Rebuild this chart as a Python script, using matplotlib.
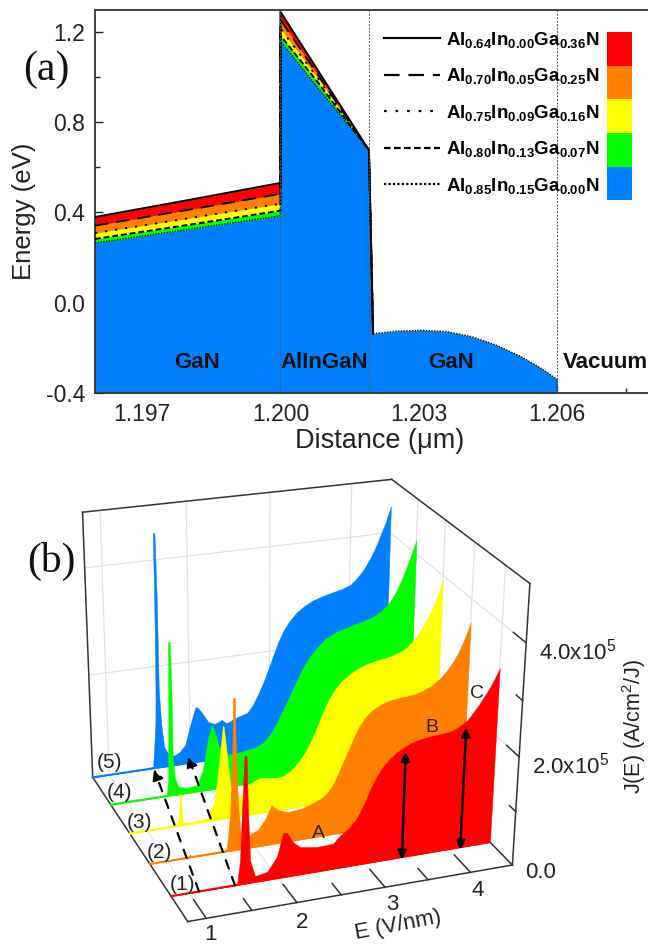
import numpy as np
import matplotlib
matplotlib.use('Agg')
import matplotlib.pyplot as plt
from matplotlib.lines import Line2D
from matplotlib.patches import FancyArrowPatch, Rectangle
from mpl_toolkits.mplot3d import proj3d

plt.rcParams['font.family'] = ['Liberation Sans', 'DejaVu Sans']
plt.rcParams['mathtext.fontset'] = 'custom'
plt.rcParams['mathtext.rm'] = 'Liberation Sans'
plt.rcParams['mathtext.bf'] = 'Liberation Sans:bold'
plt.rcParams['mathtext.default'] = 'regular'

W, H = 648, 944
RED, ORANGE, YELLOW, GREEN, BLUE = '#ff0000', '#ff8000', '#ffff00', '#00ff00', '#0080ff'
TXT = '#222222'

# panel (a): band edges
x_band = [1.19598, 1.198, 1.2, 1.2, 1.2008, 1.20192, 1.20192, 1.20201, 1.20252, 1.20306, 1.2036,
          1.20414, 1.20467, 1.20521, 1.20566, 1.206, 1.206]
dome = [-0.137, -0.126, -0.122, -0.128, -0.150, -0.187, -0.238, -0.292, -0.34, -0.40]
e_064 = [0.380, 0.455, 0.531, 1.290, 1.034, 0.676, 0.676] + dome
e_070 = [0.342, 0.412, 0.483, 1.255, 1.014, 0.676, 0.676] + dome
e_075 = [0.309, 0.374, 0.439, 1.215, 0.999, 0.676, 0.676] + dome
e_080 = [0.283, 0.345, 0.408, 1.185, 0.980, 0.676, 0.676] + dome
e_085 = [0.265, 0.325, 0.386, 1.160, 0.955, 0.676, 0.676] + dome

names = [r'$\mathbf{Al_{0.64}In_{0.00}Ga_{0.36}N}$', r'$\mathbf{Al_{0.70}In_{0.05}Ga_{0.25}N}$',
         r'$\mathbf{Al_{0.75}In_{0.09}Ga_{0.16}N}$', r'$\mathbf{Al_{0.80}In_{0.13}Ga_{0.07}N}$',
         r'$\mathbf{Al_{0.85}In_{0.15}Ga_{0.00}N}$']
colors = [RED, ORANGE, YELLOW, GREEN, BLUE]
styles = ['-', (0, (7, 4)), (0, (1.2, 4)), (0, (3, 1.5)), (0, (1, 1))]

# panel (b): J(E) curves, J in 1e5 A/cm2/J
E_1 = [0.80,1.489,1.534,1.569,1.593,1.622,1.644,1.659,1.681,1.737,1.873,1.985,2.052,2.097,2.166,2.246,2.441,2.625,
       2.69,2.76,2.82,2.88,2.93,2.99,3.04,3.11,3.18,3.26,3.34,3.43,3.52,3.64,3.75,3.85,3.95,4.05,4.15,4.22,4.29,4.35,4.40,4.45,4.50]
J_1 = [0.00,0.00,0.00,0.45,1.36,2.31,2.31,1.34,0.42,0.11,0.15,0.40,0.82,0.81,0.62,0.51,0.46,0.47,
       0.58,0.66,0.74,0.84,0.97,1.17,1.36,1.57,1.74,1.87,1.97,2.05,2.11,2.15,2.17,2.18,2.20,2.26,2.36,2.49,2.64,2.78,2.90,3.05,3.21]
E_2 = [0.80,1.22,1.26,1.29,1.64,1.68,1.72,1.75,1.76,1.78,1.79,1.81,1.84,1.89,1.97,2.04,2.12,2.20,2.27,2.39,2.57,
       2.69,2.78,2.85,2.91,2.96,3.02,3.08,3.15,3.22,3.29,3.37,3.47,3.57,3.67,3.77,3.87,3.96,4.06,4.16,4.24,4.31,4.37,4.42,4.46,4.50]
J_2 = [0.00,0.00,0.05,0.00,0.00,0.06,0.68,1.87,2.80,2.80,1.86,0.93,0.27,0.14,0.27,0.31,0.48,0.74,0.63,0.56,0.59,
       0.66,0.72,0.80,0.92,1.08,1.29,1.50,1.76,1.97,2.12,2.23,2.31,2.36,2.38,2.39,2.41,2.45,2.52,2.63,2.76,2.91,3.07,3.24,3.40,3.58]
E_3 = [0.80,1.12,1.36,1.38,1.39,1.40,1.41,1.42,1.54,1.72,1.80,1.86,1.90,1.91,1.95,1.99,2.05,2.11,2.19,2.34,
       2.54,2.62,2.70,2.76,2.82,2.88,2.94,3.00,3.05,3.11,3.17,3.24,3.32,3.42,3.52,3.64,3.76,3.89,4.01,4.09,4.16,4.23,4.30,4.36,4.41,4.46,4.50]
J_3 = [0.00,0.00,0.04,0.30,0.61,0.60,0.29,0.04,0.03,0.06,0.39,1.19,1.77,1.76,1.17,0.53,0.36,0.41,0.58,0.68,
       0.63,0.65,0.72,0.81,0.92,1.05,1.22,1.42,1.62,1.84,2.02,2.18,2.31,2.42,2.50,2.56,2.60,2.63,2.69,2.76,2.86,3.00,3.17,3.34,3.52,3.72,3.92]
E_4 = [0.80,1.15,1.39,1.47,1.49,1.51,1.52,1.54,1.55,1.55,1.57,1.61,1.71,1.84,1.91,1.98,2.03,2.06,2.10,2.18,2.33,
       2.52,2.59,2.65,2.71,2.77,2.83,2.89,2.95,3.01,3.07,3.13,3.21,3.30,3.40,3.50,3.62,3.74,3.87,3.99,4.08,4.16,4.22,4.28,4.34,4.39,4.45,4.50]
J_4 = [0.00,0.00,0.00,0.02,0.31,1.85,2.93,2.93,2.03,0.75,0.33,0.15,0.10,0.13,0.41,1.04,1.26,1.11,0.85,0.64,0.64,
       0.69,0.72,0.77,0.87,0.99,1.16,1.35,1.53,1.73,1.93,2.11,2.30,2.46,2.60,2.69,2.75,2.80,2.85,2.91,2.99,3.09,3.21,3.37,3.57,3.77,4.02,4.25]
E_5 = [0.80,1.38,1.54,1.55,1.58,1.59,1.60,1.60,1.62,1.63,1.63,1.65,1.68,1.75,1.81,1.87,1.94,2.00,2.07,2.09,2.15,2.23,2.31,2.40,2.46,2.57,
       2.72,2.79,2.85,2.92,2.98,3.04,3.10,3.17,3.25,3.34,3.44,3.54,3.66,3.79,3.90,4.01,4.07,4.13,4.19,4.25,4.31,4.37,4.44,4.50]
J_5 = [0.00,0.00,0.03,0.23,0.90,1.54,3.26,4.49,4.49,3.25,1.53,0.88,0.40,0.18,0.20,0.25,0.37,0.72,1.08,1.10,0.98,0.77,0.71,0.77,0.69,0.77,
       0.84,0.98,1.16,1.39,1.63,1.88,2.13,2.36,2.54,2.69,2.80,2.88,2.94,2.99,3.03,3.09,3.17,3.27,3.39,3.54,3.72,3.94,4.21,4.50]
curves = [(5, E_5, J_5, BLUE), (4, E_4, J_4, GREEN), (3, E_3, J_3, YELLOW), (2, E_2, J_2, ORANGE), (1, E_1, J_1, RED)]

fig = plt.figure(figsize=(W / 100, H / 100), dpi=100)
ax = fig.add_axes([95 / W, 1 - 393 / H, (W - 95) / W, 383 / H])
ax.set_xlim(1.19598, 1.20797)
ax.set_ylim(-0.4, 1.2975)

for e, c in zip([e_064, e_070, e_075, e_080, e_085], colors):
    ax.fill_between(x_band, -0.4, e, color=c, lw=0, zorder=2)
for e, s in zip([e_064, e_070, e_075, e_080], styles):
    ax.plot(x_band[:8], e[:8], color='black', ls=s, lw=1.4, zorder=3)
ax.plot(x_band, e_085, color='#111111', ls=styles[4], lw=1.0, zorder=3)
for x in [1.2, 1.20192, 1.206]:
    ax.axvline(x, color='#555555', ls=(0, (2, 1.5)), lw=0.7, zorder=4)

ax.set_xticks([1.197, 1.2, 1.203, 1.206])
ax.set_xticklabels(['1.197', '1.200', '1.203', '1.206'])
ax.set_xticks([1.1985, 1.2015, 1.2045, 1.2075], minor=True)
ax.set_yticks([-0.4, 0.0, 0.4, 0.8, 1.2])
ax.set_yticklabels(['-0.4', '0.0', '0.4', '0.8', '1.2'])
ax.set_yticks([-0.2, 0.2, 0.6, 1.0], minor=True)
ax.tick_params(which='major', direction='in', length=6, width=1, labelsize=16.5, colors=TXT, pad=7)
ax.tick_params(which='minor', direction='in', length=3.5, width=1, colors=TXT)
for side in ['left', 'bottom', 'top']:
    ax.spines[side].set_linewidth(1.3)
    ax.spines[side].set_color('#333333')
ax.spines['right'].set_visible(False)
ax.set_axisbelow(True)
ax.set_xlabel('Distance (\u03bcm)', fontsize=19.5, color=TXT)
ax.xaxis.set_label_coords(0.514, -0.092)
ax.set_ylabel('Energy (eV)', fontsize=18.5, color=TXT)
ax.yaxis.set_label_coords(-0.107, 0.475)

for x, label_a in zip([1.19819, 1.20095, 1.2037, 1.20705], ['GaN', 'AlInGaN', 'GaN', 'Vacuum']):
    ax.text(x, -0.265, label_a, fontsize=16, fontweight='bold', ha='center', va='center', color='#111111', zorder=5)

handles = [Line2D([], [], color='black', ls=s, lw=1.6) for s in styles]
ax.legend(handles, names, loc='upper left', bbox_to_anchor=(384 / W, 1 - 30 / H), bbox_transform=fig.transFigure,
          frameon=False, fontsize=13.5, handlelength=3.0, handletextpad=0.3, labelspacing=0.875, borderaxespad=0,
          borderpad=0)
for i, c in enumerate(colors):
    fig.add_artist(Rectangle((607 / W, 1 - (65.5 + 33.7 * i) / H), 25 / W, 33.7 / H, color=c, lw=0,
                             transform=fig.transFigure))

fig.text(46 / W, 1 - 70 / H, '(a)', family='Liberation Serif', fontsize=30, ha='center', va='center', color='#111111')
fig.text(51 / W, 1 - 561 / H, '(b)', family='Liberation Serif', fontsize=30, ha='center', va='center', color='#111111')

# 3D box limits and where its corners sit in the picture, the view is fitted from these
E0, E1, Y0, Y1, J1 = 0.8, 4.5, 0.25, 5.0, 5.0
world = np.array([[E0,Y1,0],[E0,Y0,0],[E1,Y0,0],[E1,Y1,0],[E0,Y1,J1],[E1,Y1,J1],[E1,Y0,J1]], float)
pix = np.array([[93,778],[188,921],[513,866],[383,733],[82,512],[393,480],[529,583]], float) / 500

A = []
for (X, Y, Z), (u, v) in zip(world, pix):
    A.append([X, Y, Z, 1, 0, 0, 0, 0, -u * X, -u * Y, -u * Z, -u])
    A.append([0, 0, 0, 0, X, Y, Z, 1, -v * X, -v * Y, -v * Z, -v])
P = np.linalg.svd(np.array(A))[2][-1].reshape(3, 4)

ax3 = fig.add_axes([0, -130 / H, 1, 648 / H], projection='3d', computed_zorder=False)
ax3.set_axis_off()
ax3.patch.set_alpha(0)
ax3.apply_aspect()
inv = ax3.transData.inverted()
p0 = inv.transform((0, H))
p1 = inv.transform((500, H - 500))
T = np.array([[p1[0] - p0[0], 0, p0[0]], [0, p1[1] - p0[1], p0[1]], [0, 0, 1]])
P2 = T @ P
corners = np.c_[world, np.ones(len(world))]
if (P2 @ corners[0])[2] < 0:
    P2 = -P2
null = np.linalg.svd(P2)[2][-1]
span = np.max(np.abs((corners @ null) / (corners @ P2[2])))
# depth row has to stay negative, mplot3d masks line points with depth above 0
M = np.vstack([P2[0], P2[1], -0.5 * P2[2] + 0.3 / span * null, P2[2]])
ax3.get_proj = lambda: M

grid = '#e2e2e2'
frame = '#333333'
for j in [2, 4]:
    ax3.plot([E0, E1], [Y1, Y1], [j, j], color=grid, lw=0.9, zorder=1)
    ax3.plot([E1, E1], [Y1, Y0], [j, j], color=grid, lw=0.9, zorder=1)
for e in [1, 2, 3, 4]:
    ax3.plot([e, e], [Y1, Y1], [0, J1], color=grid, lw=0.9, zorder=1)
    ax3.plot([e, e], [Y1, Y0], [0, 0], color=grid, lw=0.9, zorder=1)
for n in [1, 2, 3, 4]:
    ax3.plot([E1, E1], [n, n], [0, J1], color=grid, lw=0.9, zorder=1)

for p, q in [((E0, Y1, 0), (E0, Y1, J1)), ((E0, Y1, J1), (E1, Y1, J1)), ((E1, Y1, J1), (E1, Y0, J1)),
             ((E1, Y0, J1), (E1, Y0, 0)), ((E1, Y0, 0), (E0, Y0, 0)), ((E0, Y0, 0), (E0, Y1, 0)),
             ((E1, Y0, 0), (E1, Y1, 0))]:
    ax3.plot(*zip(p, q), color=frame, lw=1.1, zorder=2)
for e, d in [(1, 0.55), (1.5, 0.35), (2, 0.55), (2.5, 0.35), (3, 0.55), (3.5, 0.35), (4, 0.55)]:
    ax3.plot([e, e], [Y0, Y0 + d], [0, 0], color=frame, lw=1.1, zorder=3)
for j, d in [(1, 0.2), (2, 0.4), (3, 0.2), (4, 0.4)]:
    ax3.plot([E1, E1], [Y0, Y0 + d], [j, j], color=frame, lw=1.1, zorder=3)

for n, e, j, c in curves:
    ax3.fill_between(e, n, j, e, n, 0, mode='polygon', facecolors=c, edgecolor=c, linewidth=0.3, zorder=20 + (5 - n) * 2)
    ax3.plot([E0, E1], [n, n], [0, 0], color=c, lw=1.5, zorder=21 + (5 - n) * 2)


class Arrow3D(FancyArrowPatch):
    def __init__(self, xs, ys, zs, **kwargs):
        super().__init__((0, 0), (0, 0), **kwargs)
        self._verts3d = xs, ys, zs

    def do_3d_projection(self, renderer=None):
        xs, ys, zs = proj3d.proj_transform(*self._verts3d, self.axes.M)
        self.set_positions((xs[0], ys[0]), (xs[1], ys[1]))
        return np.min(zs)


for e0, e1, y1, j1 in [(1.109, 1.543, 4.97, 0), (1.511, 2.034, 5.25, 0)]:
    a = Arrow3D([e0, e1], [1, y1], [0, j1], arrowstyle='-|>', mutation_scale=16, lw=1.6, ls=(0, (4, 4)),
                color='black', shrinkA=0, shrinkB=0, zorder=40)
    ax3.add_artist(a)
for e, j in [(3.44, 1.95), (4.14, 2.23)]:
    a = Arrow3D([e, e], [1, 1], [-0.05, j], arrowstyle='<|-|>', mutation_scale=13, lw=1.8, color='black',
                shrinkA=0, shrinkB=0, zorder=40)
    ax3.add_artist(a)


def label(x, y, s, **kw):
    kw.setdefault('fontsize', 14)
    kw.setdefault('ha', 'center')
    kw.setdefault('va', 'center')
    kw.setdefault('color', TXT)
    fig.text(x / W, 1 - y / H, s, **kw)


for x, y, s in [(182, 885, '(1)'), (159, 852, '(2)'), (140, 822, '(3)'), (120, 793, '(4)'), (109, 763, '(5)')]:
    label(x, y, s, fontsize=15)
for x, y, s in [(318, 833, 'A'), (432, 728, 'B'), (477, 693, 'C')]:
    label(x, y, s)
for x, y, s in [(210, 934, '1'), (302, 922, '2'), (392, 905, '3'), (478, 890, '4')]:
    label(x, y, s, fontsize=16)
label(541, 872, '0.0', fontsize=16)
label(571, 766, r'2.0x10$^{5}$', fontsize=16)
label(578, 652, r'4.0x10$^{5}$', fontsize=16)
label(398, 925, 'E (V/nm)', fontsize=16, rotation=11)
label(634, 726, r'J(E) (A/cm$^{2}$/J)', fontsize=15.5, rotation=90)

fig.savefig('out.png', dpi=100)
